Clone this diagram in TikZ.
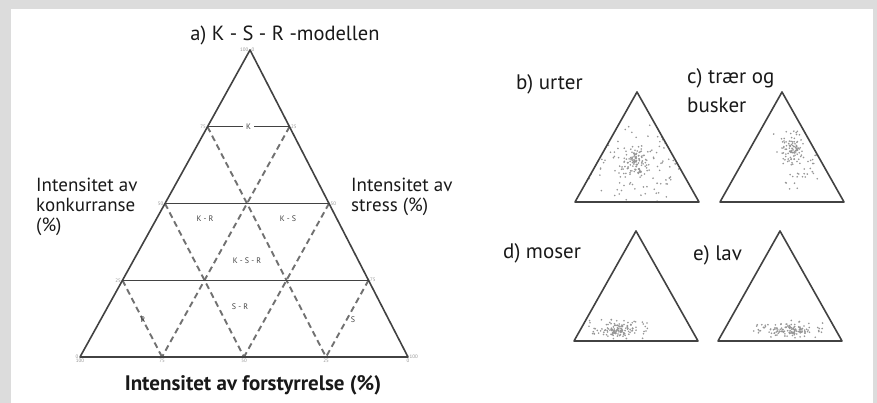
\documentclass[tikz,border=0pt]{standalone}
\usepackage{fontspec}
\setmainfont{PT Sans}
\usetikzlibrary{calc}
\definecolor{frame}{HTML}{DCDCDC}
\definecolor{edge}{HTML}{424242}
\definecolor{speck}{HTML}{969696}

% centre x, centre y, spread x, spread y, count
\newcommand{\dotcloud}[5]{%
  \foreach \i in {1,...,#5}{%
    \pgfmathsetmacro{\px}{#1+#3*(rand+rand)/2}%
    \pgfmathsetmacro{\py}{#2+#4*(rand+rand)/2}%
    \fill[speck] (\px,\py) circle (0.9);}}

\begin{document}
\begin{tikzpicture}[x=1pt,y=-1pt,
    side/.style={edge,line width=1.6pt,line join=round},
    grid/.style={edge,line width=1.3pt},
    dashline/.style={edge!75,line width=1.9pt,dash pattern=on 6pt off 4pt},
    zone/.style={font=\fontsize{8}{9}\selectfont,text=edge,inner sep=1pt},
    tick/.style={font=\fontsize{5}{6}\selectfont,text=speck,inner sep=1.5pt},
    axis/.style={font=\fontsize{19}{20}\selectfont,text=black!90,align=left,inner sep=0pt},
    panel/.style={font=\fontsize{21}{29}\selectfont,text=black!90,align=left,inner sep=0pt}]
  \pgfmathsetseed{7}
  \fill[frame] (0,0) rectangle (877,403);
  \fill[white] (11,9) rectangle (873,403);
  \useasboundingbox (0,0) rectangle (877,403);

  % a) main triangle
  \coordinate (K) at (250,50);
  \coordinate (R) at (80,357);
  \coordinate (S) at (408,357);
  \foreach \i/\t in {1/.25,2/.5,3/.75}{
    \coordinate (lft\i) at ($(K)!\t!(R)$);
    \coordinate (rgt\i) at ($(K)!\t!(S)$);
    \coordinate (bas\i) at ($(R)!\t!(S)$);
  }
  \foreach \a/\b in {lft1/bas3,rgt1/bas1,lft2/bas2,rgt2/bas2,lft3/bas1,rgt3/bas3}
    \draw[dashline] (\a) -- (\b);
  \draw[grid] (lft1) -- (rgt1) node[zone,midway,fill=white,inner sep=3pt] (zK) {K};
  \draw[grid] (lft2) -- (rgt2);
  \draw[grid] (lft3) -- (rgt3);
  \draw[side] (K) -- (R) -- (S) -- cycle;

  \foreach \t/\a/\b [count=\n] in {0/100/0,.25/75/25,.5/50/50,.75/25/75,1/0/100}{
    \node[tick,left]  (tl\n) at ($(K)!\t!(R)$) {\a};
    \node[tick,right] (tr\n) at ($(K)!\t!(S)$) {\b};
    \node[tick,below] (tb\n) at ($(R)!\t!(S)$) {\a};
  }

  \node[zone] (zKR)  at (205,219) {K - R};
  \node[zone] (zKS)  at (288,219) {K - S};
  \node[zone] (zKSR) at (247,261) {K - S - R};
  \node[zone] (zSR)  at (240,307) {S - R};
  \node[zone] (zR)   at (143,320) {R};
  \node[zone] (zS)   at (353,320) {S};

  \node[panel,font=\fontsize{20.5}{24}\selectfont] (ta) at (285,35) {a) K - S - R -modellen};
  \node[axis,anchor=west] (konk) at (36,207) {Intensitet av\\konkurranse\\(\%)};
  \node[axis,anchor=west] (stre) at (351,197) {Intensitet av\\stress (\%)};
  \node[axis,font=\fontsize{21}{23}\bfseries] (fors) at (253,385) {Intensitet av forstyrrelse (\%)};

  % b)-e) small triangles
  \foreach \p/\x/\y in {b/637/92,c/782/92,d/636/231,e/780/231}{
    \coordinate (\p top) at (\x,\y);
    \coordinate (\p left) at (\x-62,\y+110);
    \coordinate (\p right) at (\x+62,\y+110);
  }
  \begin{scope}
    \clip (btop) -- (bleft) -- (bright) -- cycle;
    \dotcloud{636}{165}{60}{50}{140}
    \dotcloud{635}{162}{14}{14}{80}
  \end{scope}
  \begin{scope}
    \clip (ctop) -- (cleft) -- (cright) -- cycle;
    \dotcloud{796}{160}{30}{40}{60}
    \dotcloud{792}{150}{12}{15}{70}
  \end{scope}
  \begin{scope}
    \clip (dtop) -- (dleft) -- (dright) -- cycle;
    \dotcloud{620}{329}{38}{13}{70}
    \dotcloud{616}{330}{18}{8}{70}
  \end{scope}
  \begin{scope}
    \clip (etop) -- (eleft) -- (eright) -- cycle;
    \dotcloud{788}{329}{40}{12}{70}
    \dotcloud{792}{330}{20}{7}{70}
  \end{scope}
  \foreach \p in {b,c,d,e}
    \draw[side] (\p top) -- (\p left) -- (\p right) -- cycle;

  \node[panel,anchor=west] (tb) at (516,84) {b) urter};
  \node[panel,anchor=north west] (tc) at (687,68) {c) trær og\\busker};
  \node[panel,anchor=west] (td) at (503,253) {d) moser};
  \node[panel,anchor=west] (te) at (693,255) {e) lav};
\end{tikzpicture}
\end{document}
